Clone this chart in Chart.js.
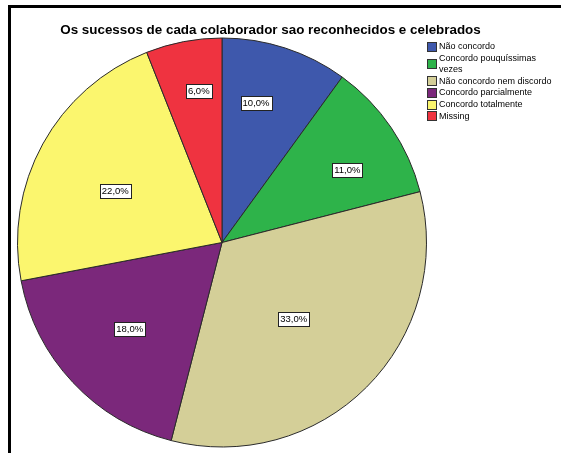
<!DOCTYPE html>
<html>
<head>
<meta charset="utf-8">
<script src="https://cdn.jsdelivr.net/npm/chart.js@4.4.1/dist/chart.umd.min.js"></script>
<style>
  html, body { margin: 0; padding: 0; background: #fff; }
  #wrap { position: relative; width: 561px; height: 453px; overflow: hidden; font-family: "Liberation Sans", Arial, sans-serif; }
  #frame { position: absolute; left: 8px; top: 5px; width: 600px; height: 500px; border-top: 3px solid #000; border-left: 3px solid #000; box-sizing: border-box; }
  #title { position: absolute; left: 0; width: 541px; top: 22px; text-align: center; font-size: 13.4px; font-weight: bold; color: #000; line-height: 16px; white-space: nowrap; }
  #c { position: absolute; left: 0; top: 0; }
  #legend { position: absolute; left: 427px; top: 41px; font-size: 9px; color: #000; line-height: 11px; }
  .li { display: flex; align-items: center; margin-bottom: 0.8px; }
  .sw { width: 8px; height: 8px; border: 1px solid #333; margin-right: 2px; flex: none; }
  .tx { max-width: 118px; }
</style>
</head>
<body>
<div id="wrap">
  <div id="frame"></div>
  <canvas id="c" width="561" height="453"></canvas>
  <div id="title"></div>
  <div id="legend"></div>
</div>
<script>
const chartTitle = "Os sucessos de cada colaborador sao reconhecidos e celebrados";
const categories = ["Não concordo", "Concordo pouquíssimas vezes", "Não concordo nem discordo", "Concordo parcialmente", "Concordo totalmente", "Missing"];
const percentages = [10.0, 11.0, 33.0, 18.0, 22.0, 6.0];
const sliceColors = ["#3E58AC", "#2EB34A", "#D4CF98", "#7B287B", "#FBF66E", "#EF3340"];

document.getElementById('title').textContent = chartTitle;
const legendEl = document.getElementById('legend');
categories.forEach((c, i) => {
  const row = document.createElement('div');
  row.className = 'li';
  const sw = document.createElement('div');
  sw.className = 'sw';
  sw.style.background = sliceColors[i];
  const tx = document.createElement('div');
  tx.className = 'tx';
  tx.textContent = c;
  row.appendChild(sw); row.appendChild(tx);
  legendEl.appendChild(row);
});

// label placement style (fraction of radius, angular nudge in degrees)
const labelFrac = [0.703, 0.708, 0.512, 0.619, 0.580, 0.751];
const labelNudge = [-4.3, 4.1, 1.8, 0, -2.9, 2.1];
const sliceLabels = {
  id: 'sliceLabels',
  afterDatasetsDraw(chart) {
    const ctx = chart.ctx;
    const meta = chart.getDatasetMeta(0);
    ctx.save();
    ctx.font = '9.5px "Liberation Sans", Arial, sans-serif';
    ctx.textAlign = 'center';
    ctx.textBaseline = 'middle';
    meta.data.forEach((arc, i) => {
      const p = arc.getProps(['x', 'y', 'startAngle', 'endAngle', 'outerRadius'], true);
      const mid = (p.startAngle + p.endAngle) / 2 + labelNudge[i] * Math.PI / 180;
      const r = p.outerRadius * labelFrac[i];
      const x = p.x + Math.cos(mid) * r;
      const y = p.y + Math.sin(mid) * r;
      const txt = chart.data.datasets[0].data[i].toFixed(1).replace('.', ',') + '%';
      const w = Math.round(ctx.measureText(txt).width + 4);
      const h = 14;
      const bx = Math.round(x - w / 2) + 0.5, by = Math.round(y - h / 2) + 0.5;
      ctx.fillStyle = '#fff';
      ctx.fillRect(bx, by, w, h);
      ctx.strokeStyle = '#222';
      ctx.lineWidth = 1;
      ctx.strokeRect(bx, by, w, h);
      ctx.fillStyle = '#000';
      ctx.fillText(txt, x, y + 0.5);
    });
    ctx.restore();
  }
};

new Chart(document.getElementById('c'), {
  type: 'pie',
  data: {
    labels: categories,
    datasets: [{
      data: percentages,
      backgroundColor: sliceColors,
      borderColor: '#2a2a2a',
      borderWidth: 1
    }]
  },
  options: {
    responsive: false,
    animation: false,
    events: [],
    layout: { padding: { left: 17, top: 37, right: 134, bottom: 5 } },
    plugins: {
      legend: { display: false },
      title: { display: false },
      tooltip: { enabled: false }
    }
  },
  plugins: [sliceLabels]
});
</script>
</body>
</html>
